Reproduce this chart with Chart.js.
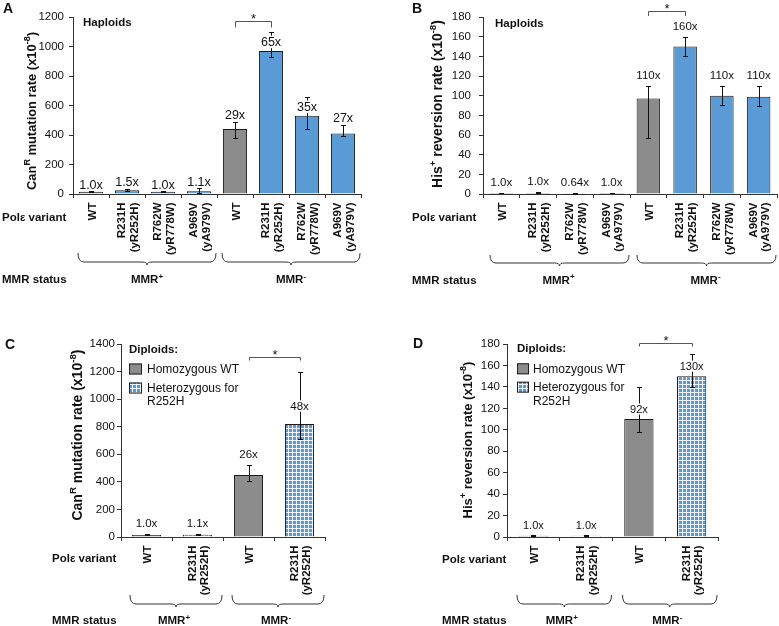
<!DOCTYPE html>
<html lang="en">
<head>
<meta charset="UTF-8">
<title>Pol epsilon variants: mutation rates</title>
<style>
  body { margin: 0; background: #fff; }
  #wrap { position: relative; width: 779px; height: 626px; }
  canvas { position: absolute; }
</style>
<script src="https://cdn.jsdelivr.net/npm/chart.js@4.4.1/dist/chart.umd.min.js"></script>
</head>
<body>
<div id="wrap">
  <canvas id="chartA" width="390" height="320" style="left:0;top:0"></canvas>
  <canvas id="chartB" width="389" height="320" style="left:390px;top:0"></canvas>
  <canvas id="chartC" width="390" height="306" style="left:0;top:320px"></canvas>
  <canvas id="chartD" width="389" height="306" style="left:390px;top:320px"></canvas>
</div>
<script>
// ---- data ----
const haploidVariants = ['WT', ['R231H', '(yR252H)'], ['R762W', '(yR778W)'], ['A969V', '(yA979V)'],
                         'WT', ['R231H', '(yR252H)'], ['R762W', '(yR778W)'], ['A969V', '(yA979V)']];
const diploidVariants = ['WT', ['R231H', '(yR252H)'], 'WT', ['R231H', '(yR252H)']];
const mmrGroups = ['+', '-'];

// A: CanR mutation rate, haploids
const canHapRate = [15, 26, 15, 18, 440, 970, 530, 410];
const canHapLow  = [11, 18, 11, 8, 378, 930, 440, 392];
const canHapHigh = [19, 36, 19, 38, 491, 1095, 655, 468];
const canHapFold = ['1.0x', '1.5x', '1.0x', '1.1x', '29x', '65x', '35x', '27x'];

// B: His+ reversion rate, haploids
const hisHapRate = [1.0, 1.0, 0.64, 1.0, 97, 150, 100, 99];
const hisHapLow  = [0.7, 0.6, 0.4, 0.7, 57, 140, 91, 90];
const hisHapHigh = [1.3, 2.0, 0.9, 1.3, 110, 160, 110, 110];
const hisHapFold = ['1.0x', '1.0x', '0.64x', '1.0x', '110x', '160x', '110x', '110x'];

// C: CanR mutation rate, diploids
const canDipRate = [15, 17, 450, 820];
const canDipLow  = [11, 12, 407, 710];
const canDipHigh = [21, 24, 522, 1200];
const canDipFold = ['1.0x', '1.1x', '26x', '48x'];

// D: His+ reversion rate, diploids
const hisDipRate = [1.2, 1.2, 110, 150];
const hisDipLow  = [0.8, 0.8, 98, 140];
const hisDipHigh = [1.6, 1.8, 140, 171];
const hisDipFold = ['1.0x', '1.0x', '92x', '130x'];

const sigPairHap = [4, 5];
const sigPairDip = [2, 3];

// ---- styling helpers ----
const FONT = '"Liberation Sans", Arial, sans-serif';
const GRAY = '#8c8c8c';
const BLUE = '#5b9bd5';

function font(size, bold) { return (bold ? 'bold ' : '') + size + 'px ' + FONT; }

function richWidth(ctx, parts, size, bold) {
  let w = 0;
  parts.forEach(p => { ctx.font = font(p[1] ? size * 0.7 : size, bold); w += ctx.measureText(p[0]).width; });
  return w;
}

// parts: [[text, isSuperscript]]; y is the vertical centre of capitals
function drawRich(ctx, parts, x, y, size, bold, align) {
  const w = richWidth(ctx, parts, size, bold);
  let cx = align === 'center' ? x - w / 2 : align === 'right' ? x - w : x;
  const base = y + size * 0.36;
  ctx.textAlign = 'left';
  ctx.textBaseline = 'alphabetic';
  parts.forEach(p => {
    const s = p[1] ? size * 0.7 : size;
    ctx.font = font(s, bold);
    ctx.fillText(p[0], cx, base - (p[1] ? size * 0.4 : 0));
    cx += ctx.measureText(p[0]).width;
  });
}

function gridPattern(ctx) {
  const c = document.createElement('canvas');
  c.width = 4; c.height = 4;
  const g = c.getContext('2d');
  g.fillStyle = BLUE; g.fillRect(0, 0, 4, 4);
  g.fillStyle = 'rgba(255,255,255,0.85)';
  g.fillRect(0, 0, 4, 1); g.fillRect(0, 0, 1, 4);
  return ctx.createPattern(c, 'repeat');
}

function drawBrace(ctx, x0, x1, top, bottom) {
  const mid = (x0 + x1) / 2, h = bottom - 3;
  ctx.beginPath();
  ctx.moveTo(x0, top);
  ctx.quadraticCurveTo(x0, h, x0 + 6, h);
  ctx.lineTo(mid - 5, h);
  ctx.quadraticCurveTo(mid, h, mid, bottom);
  ctx.quadraticCurveTo(mid, h, mid + 5, h);
  ctx.lineTo(x1 - 6, h);
  ctx.quadraticCurveTo(x1, h, x1, top);
  ctx.stroke();
}

function decorPlugin(cfg) {
  return {
    id: 'decor',
    afterDatasetsDraw(chart) {
      const ctx = chart.ctx, ys = chart.scales.y;
      const bars = chart.getDatasetMeta(0).data;
      ctx.save();
      ctx.strokeStyle = '#111';
      ctx.lineWidth = 1;
      // error bars
      cfg.values.forEach((v, i) => {
        const cx = Math.round(bars[i].x) + 0.5;
        const yl = Math.round(ys.getPixelForValue(cfg.low[i])) + 0.5;
        const yh = Math.round(ys.getPixelForValue(cfg.high[i])) + 0.5;
        ctx.beginPath();
        ctx.moveTo(cx, yl); ctx.lineTo(cx, yh);
        ctx.moveTo(cx - 2.5, yl); ctx.lineTo(cx + 2.5, yl);
        ctx.moveTo(cx - 2.5, yh); ctx.lineTo(cx + 2.5, yh);
        ctx.stroke();
      });
      // fold-change labels
      cfg.fold.forEach((t, i) => {
        const top = ys.getPixelForValue(cfg.values[i]);
        const errTop = ys.getPixelForValue(cfg.high[i]);
        const cy = (top - errTop < cfg.lab.gap) ? errTop - cfg.lab.offErr : top - cfg.lab.offBar;
        ctx.font = font(cfg.lab.size, false);
        const w = ctx.measureText(t).width;
        ctx.fillStyle = '#fff';
        ctx.fillRect(bars[i].x - w / 2 - 1, cy - cfg.lab.size * 0.5, w + 2, cfg.lab.size);
        ctx.fillStyle = '#111';
        drawRich(ctx, [[t]], bars[i].x, cy, cfg.lab.size, false, 'center');
      });
      ctx.restore();
    },
    afterDraw(chart) {
      const ctx = chart.ctx, xs = chart.scales.x;
      const area = chart.chartArea;
      ctx.save();
      ctx.fillStyle = '#111';
      ctx.strokeStyle = '#222';
      ctx.lineWidth = 1;

      // panel letter
      drawRich(ctx, [[cfg.letter.t]], cfg.letter.x, cfg.letter.y, 14, true, 'left');

      // y axis title, rotated
      ctx.save();
      ctx.translate(cfg.yTitle.x, cfg.yTitle.y);
      ctx.rotate(-Math.PI / 2);
      const tSize = 12 * cfg.yTitle.len / richWidth(ctx, cfg.yTitle.parts, 12, true);
      drawRich(ctx, cfg.yTitle.parts, 0, 0, tSize, true, 'center');
      ctx.restore();

      // header text or legend
      if (cfg.header) drawRich(ctx, [[cfg.header.t]], cfg.header.x, cfg.header.y, 11.5, true, 'left');
      if (cfg.legend) {
        const L = cfg.legend;
        drawRich(ctx, [['Diploids:']], L.x, L.y0, 11.5, true, 'left');
        [[GRAY, L.y1, ['Homozygous WT']], [cfg.pattern, L.y2, ['Heterozygous for', 'R252H']]].forEach(r => {
          ctx.fillStyle = r[0];
          ctx.fillRect(L.x, r[1] - 5, L.box, 11);
          ctx.strokeStyle = '#222';
          ctx.strokeRect(L.x + 0.5, r[1] - 4.5, L.box - 1, 10);
          ctx.fillStyle = '#111';
          r[2].forEach((line, k) => drawRich(ctx, [[line]], L.tx, r[1] + k * 13.5, 12, false, 'left'));
        });
      }

      // significance bracket
      const bx0 = Math.round(xs.getPixelForValue(cfg.sig[0])) + 0.5;
      const bx1 = Math.round(xs.getPixelForValue(cfg.sig[1])) + 0.5;
      const by = Math.round(cfg.bracket.y) + 0.5;
      ctx.strokeStyle = '#555';
      ctx.beginPath();
      ctx.moveTo(bx0, by + cfg.bracket.leg); ctx.lineTo(bx0, by); ctx.lineTo(bx1, by); ctx.lineTo(bx1, by + cfg.bracket.leg);
      ctx.stroke();
      ctx.font = font(13, false);
      ctx.textAlign = 'center';
      ctx.textBaseline = 'alphabetic';
      ctx.fillText('*', (bx0 + bx1) / 2, by + 1.5);

      // rotated category labels
      const axisY = area.bottom;
      ctx.font = font(11.5, true);
      chart.data.labels.forEach((lab, i) => {
        const lines = Array.isArray(lab) ? lab : [lab];
        const c = xs.getPixelForValue(i);
        lines.forEach((line, j) => {
          ctx.save();
          ctx.translate(c + (j - (lines.length - 1) / 2) * 12.5 + 0.5, axisY + 8.5);
          ctx.rotate(-Math.PI / 2);
          ctx.textAlign = 'right';
          ctx.textBaseline = 'alphabetic';
          ctx.fillText(line, 0, 4);
          ctx.restore();
        });
      });

      // row captions
      drawRich(ctx, [['Pol\u03b5 variant']], cfg.rows.x, cfg.rows.variantY, 11.5, true, 'left');
      drawRich(ctx, [['MMR status']], cfg.rows.x, cfg.rows.statusY, 11.5, true, 'left');

      // braces and MMR group labels
      const per = chart.data.labels.length / mmrGroups.length;
      const step = xs.getPixelForValue(1) - xs.getPixelForValue(0);
      ctx.strokeStyle = '#333';
      mmrGroups.forEach((g, k) => {
        const left = xs.getPixelForValue(k * per) - step / 2;
        const right = xs.getPixelForValue(k * per + per - 1) + step / 2;
        drawBrace(ctx, left + cfg.brace.inset, right - 1, cfg.brace.top, cfg.brace.bottom);
        drawRich(ctx, [['MMR'], [g, true]], (left + right) / 2 + 2, cfg.rows.statusY, 11.5, true, 'center');
      });
      ctx.restore();
    }
  };
}

function makePanel(id, cfg) {
  const ctx = document.getElementById(id).getContext('2d');
  const variantFill = cfg.patterned ? gridPattern(ctx) : BLUE;
  cfg.pattern = variantFill;
  return new Chart(ctx, {
    type: 'bar',
    data: {
      labels: cfg.labels,
      datasets: [{
        data: cfg.values,
        backgroundColor: cfg.labels.map(l => l === 'WT' ? GRAY : variantFill),
        borderColor: '#1a1a1a',
        borderWidth: 1,
        barPercentage: cfg.barPct,
        categoryPercentage: 1
      }]
    },
    options: {
      responsive: false,
      animation: false,
      devicePixelRatio: 1,
      layout: { padding: cfg.pad },
      plugins: { legend: { display: false }, tooltip: { enabled: false } },
      scales: {
        x: {
          grid: { drawOnChartArea: false, tickLength: 4, color: '#333', offset: true },
          border: { color: '#333' },
          ticks: { display: false },
          afterFit: s => { s.height = cfg.xHeight; }
        },
        y: {
          min: 0,
          max: cfg.yMax,
          ticks: {
            stepSize: cfg.yStep,
            font: { family: FONT, size: cfg.tickSize },
            color: '#111',
            padding: cfg.tickPad,
            callback: v => String(v)
          },
          grid: { drawOnChartArea: false, tickLength: 4, color: '#333' },
          border: { color: '#333' },
          afterFit: s => { s.width = cfg.yWidth; }
        }
      }
    },
    plugins: [decorPlugin(cfg)]
  });
}

const canTitle = [['Can'], ['R', true], [' mutation rate (x10'], ['-8', true], [')']];
const hisTitle = [['His'], ['+', true], [' reversion rate (x10'], ['-8', true], [')']];

makePanel('chartA', {
  labels: haploidVariants, values: canHapRate, low: canHapLow, high: canHapHigh, fold: canHapFold,
  sig: sigPairHap, yMax: 1200, yStep: 200, tickSize: 11.5, tickPad: 5,
  pad: { left: 0, top: 17, right: 29, bottom: 0 }, yWidth: 73, xHeight: 126, barPct: 0.67,
  lab: { gap: 15, offErr: 7, offBar: 9, size: 12.5 },
  letter: { t: 'A', x: 3, y: 8 },
  yTitle: { parts: canTitle, x: 31, y: 111, len: 158 },
  header: { t: 'Haploids', x: 83, y: 22 },
  bracket: { y: 20.5, leg: 6 },
  rows: { x: 2, variantY: 217, statusY: 279 },
  brace: { top: 253, bottom: 265, inset: 5 }
});

makePanel('chartB', {
  labels: haploidVariants, values: hisHapRate, low: hisHapLow, high: hisHapHigh, fold: hisHapFold,
  sig: sigPairHap, yMax: 180, yStep: 20, tickSize: 11.5, tickPad: 8,
  pad: { left: 0, top: 17, right: 2, bottom: 0 }, yWidth: 93, xHeight: 126, barPct: 0.64,
  lab: { gap: 999, offErr: 11, offBar: 11, size: 11.5 },
  letter: { t: 'B', x: 22, y: 8 },
  yTitle: { parts: hisTitle, x: 47, y: 104, len: 168 },
  header: { t: 'Haploids', x: 105, y: 22.5 },
  bracket: { y: 10.5, leg: 4.5 },
  rows: { x: 22, variantY: 217, statusY: 279.5 },
  brace: { top: 255, bottom: 266, inset: 7 }
});

makePanel('chartC', {
  labels: diploidVariants, values: canDipRate, low: canDipLow, high: canDipHigh, fold: canDipFold,
  sig: sigPairDip, yMax: 1400, yStep: 200, tickSize: 11.5, tickPad: 2, patterned: true,
  pad: { left: 0, top: 24, right: 65, bottom: 0 }, yWidth: 121, xHeight: 89, barPct: 0.57,
  lab: { gap: 20, offErr: 11, offBar: 18, size: 11.5 },
  letter: { t: 'C', x: 5, y: 24 },
  yTitle: { parts: canTitle, x: 77, y: 115, len: 171 },
  legend: { x: 129, box: 13, tx: 147, y0: 29, y1: 48.5, y2: 67.5 },
  bracket: { y: 37.3, leg: 3 },
  rows: { x: 52, variantY: 238, statusY: 300 },
  brace: { top: 275, bottom: 287, inset: 9 }
});

makePanel('chartD', {
  labels: diploidVariants, values: hisDipRate, low: hisDipLow, high: hisDipHigh, fold: hisDipFold,
  sig: sigPairDip, yMax: 180, yStep: 20, tickSize: 11.5, tickPad: 3, patterned: true,
  pad: { left: 0, top: 24, right: 61, bottom: 0 }, yWidth: 117, xHeight: 89, barPct: 0.555,
  lab: { gap: 15, offErr: 10, offBar: 10, size: 11 },
  letter: { t: 'D', x: 23, y: 23 },
  yTitle: { parts: hisTitle, x: 77, y: 120, len: 157 },
  legend: { x: 127, box: 12, tx: 143, y0: 28, y1: 48.3, y2: 66.7 },
  bracket: { y: 22.7, leg: 3 },
  rows: { x: 52, variantY: 239, statusY: 300 },
  brace: { top: 275, bottom: 287, inset: 10 }
});
</script>
</body>
</html>
